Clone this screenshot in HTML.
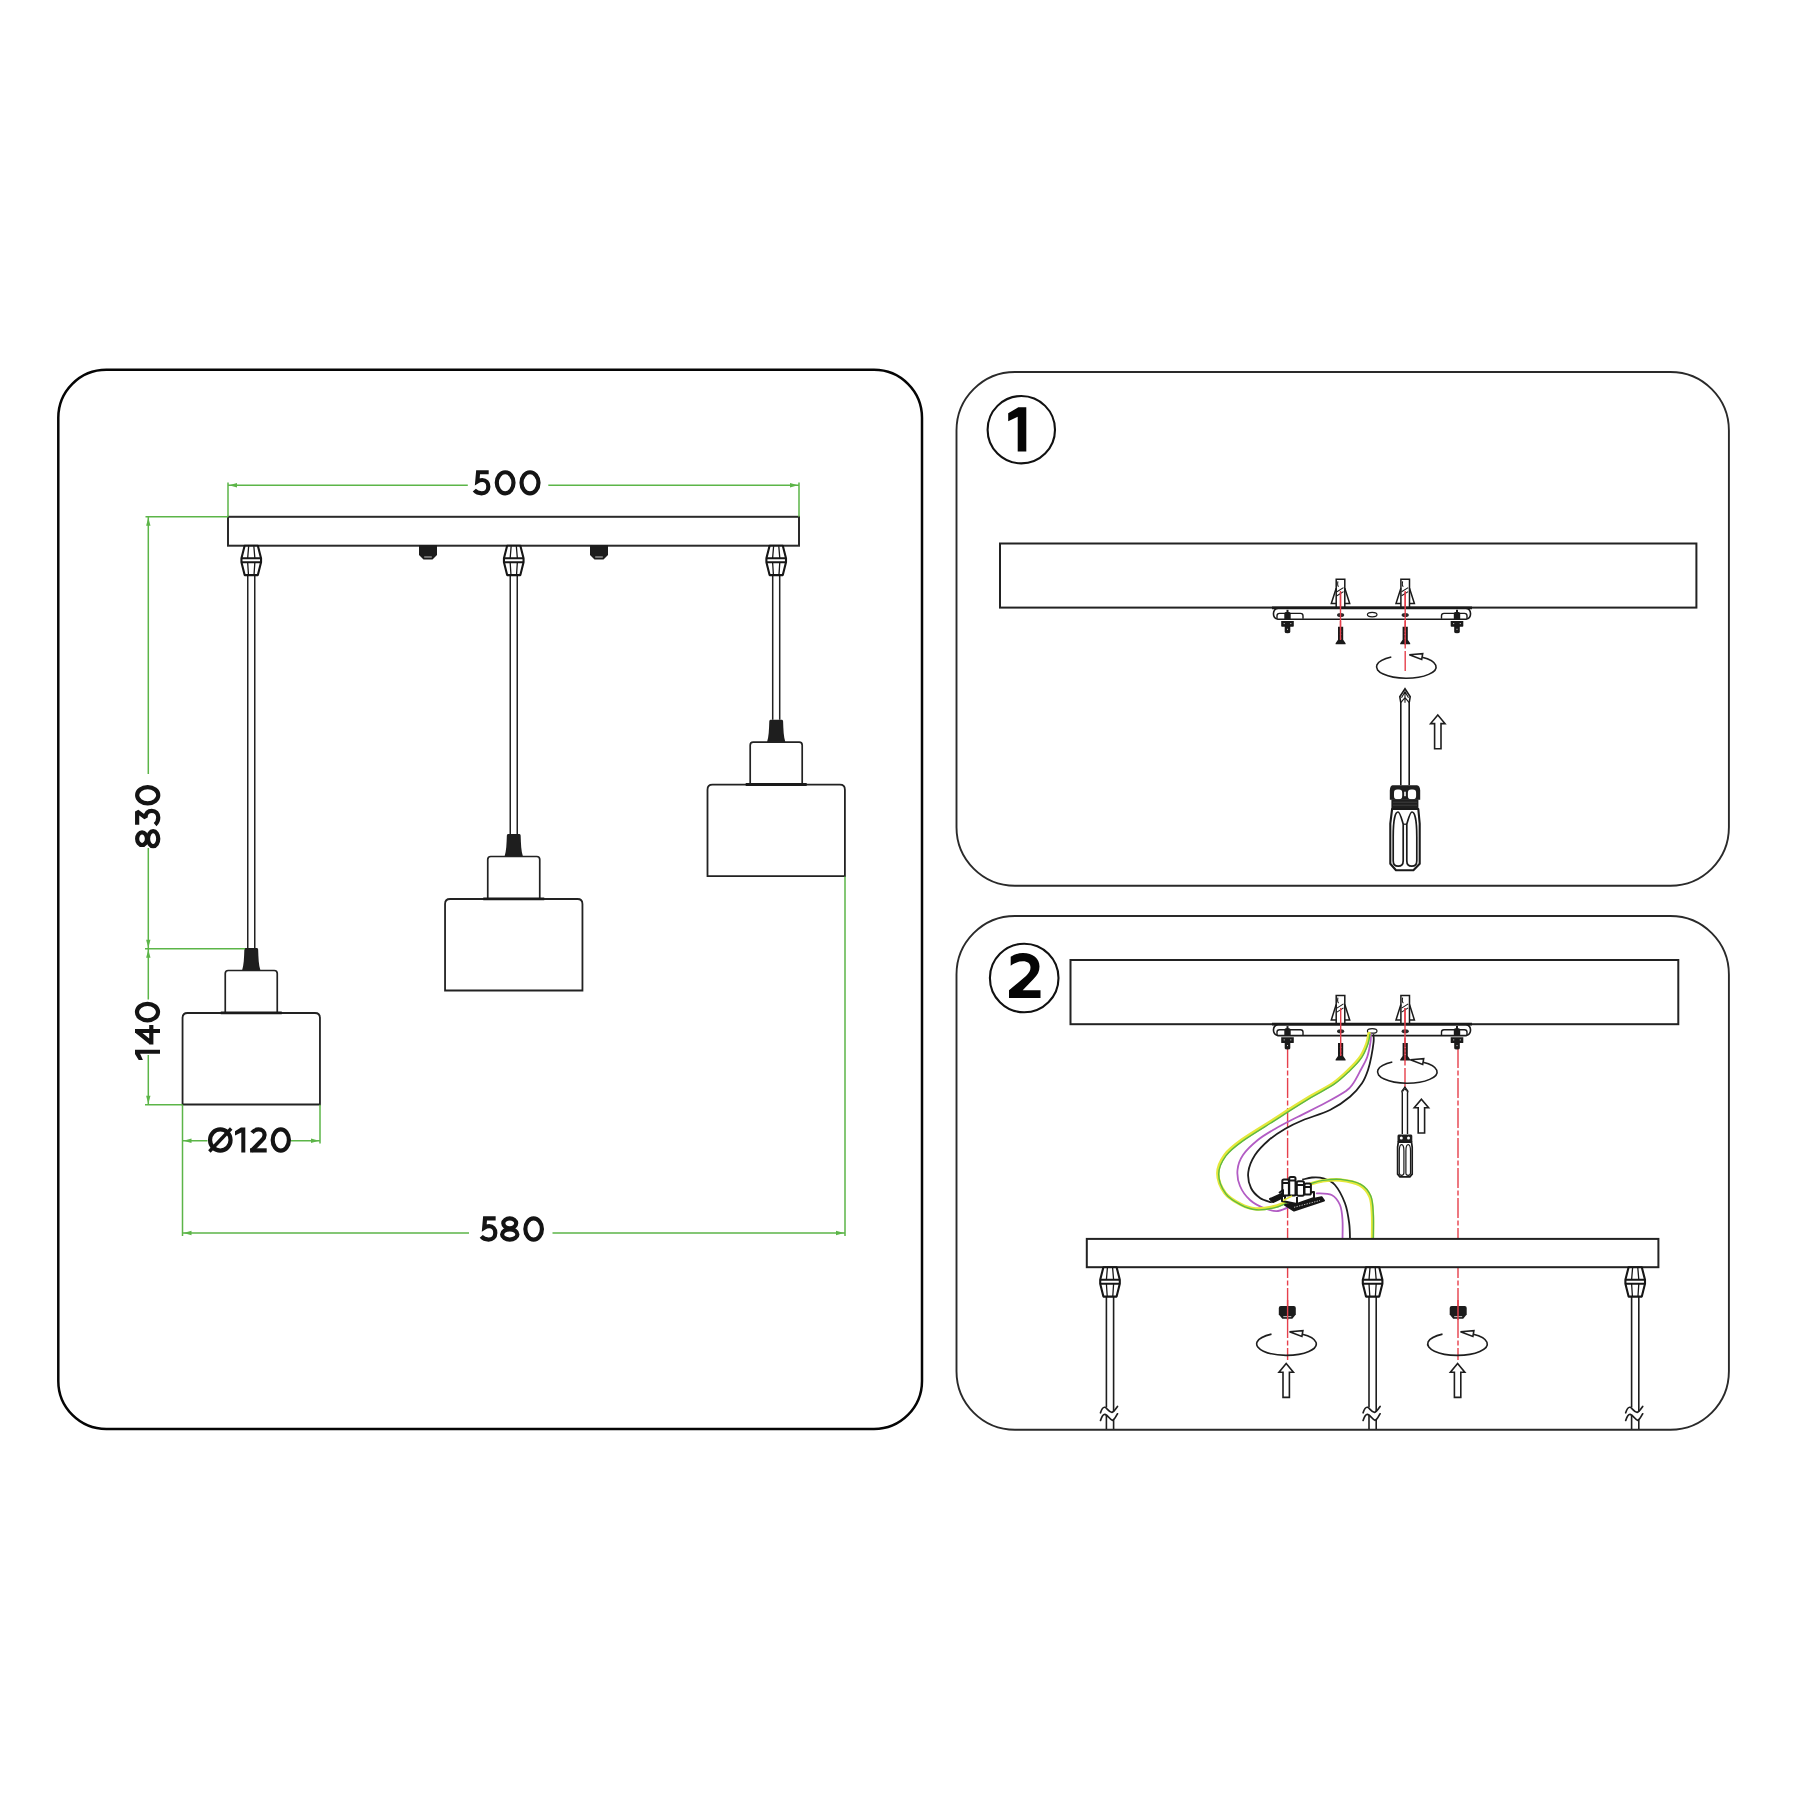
<!DOCTYPE html>
<html><head><meta charset="utf-8"><title>Pendant lamp diagram</title>
<style>
html,body{margin:0;padding:0;background:#fff;}
body{width:1800px;height:1800px;overflow:hidden;}
svg{display:block;}
text{font-family:"Liberation Sans",sans-serif;font-weight:bold;fill:#141414;}
.dim{font-weight:normal;stroke:#141414;stroke-width:1.1px;paint-order:stroke;}
</style></head>
<body>
<svg width="1800" height="1800" viewBox="0 0 1800 1800">
<defs>
  <!-- cord connector hanging from bar; origin = center, top at bar bottom -->
  <g id="conn" fill="#fff" stroke="#161616" stroke-width="2.1" stroke-linejoin="round">
    <path d="M-6.6,0 L6.6,0 L9.8,12.6 L9.8,16.6 L6.6,29.4 L-6.6,29.4 L-9.8,16.6 L-9.8,12.6 Z"/>
    <path d="M-9.8,12.6 H9.8 M-9.8,16.6 H9.8" />
    <path d="M-2.6,0.5 L-3.6,12.6 M2.6,0.5 L3.6,12.6 M-3.6,16.6 L-2.8,29 M3.6,16.6 L2.8,29" stroke-width="1.3"/>
  </g>
  <!-- pendant lower part: origin = cord center at cap top -->
  <g id="pend">
    <path d="M-5.8,0 H5.8 Q6.8,0 6.9,1.5 C7.2,10 7.4,17 9.2,22.5 H-9.2 C-7.4,17 -7.2,10 -6.9,1.5 Q-6.8,0 -5.8,0 Z" fill="#1e1e1e"/>
    <path d="M-26,64.5 V25.5 Q-26,22.5 -23,22.5 H23 Q26,22.5 26,25.5 V64.5" fill="#fff" stroke="#222" stroke-width="1.7"/>
    <path d="M-68.7,156.5 V70 Q-68.7,65 -63.7,65 H63.7 Q68.7,65 68.7,70 V156.5 Z" fill="#fff" stroke="#222" stroke-width="1.8"/>
    <path d="M-30.5,64.8 H30.5" stroke="#1a1a1a" stroke-width="2.8"/>
  </g>
  <!-- screw cap under bar -->
  <g id="scap">
    <path d="M-9,0 H9 V10 L4.5,14.5 H-4.5 L-9,10 Z" fill="#1c1c1c"/>
    <path d="M-3.8,12 H3.8" stroke="#aaa" stroke-width="1.2"/>
  </g>

  <!-- rotation symbol centered at 0,0 -->
  <g id="rot" fill="none" stroke="#1e1e1e" stroke-width="1.6">
    <path d="M-15,-9.6 A29.8,11.4 0 1 0 15.8,-9.4"/>
    <path d="M3,-11.9 L16.4,-13 L15.4,-7.2 Z" fill="#fff" stroke-linejoin="miter"/>
  </g>
  <!-- up arrow outline, tip at 0,0 -->
  <g id="uarr">
    <path d="M0,0 L7.2,8.6 H3.2 V33.8 H-3.2 V8.6 H-7.2 Z" fill="#fff" stroke="#1e1e1e" stroke-width="1.6" stroke-linejoin="miter"/>
  </g>
  <!-- black nut (bottom) origin top center -->
  <g id="nut">
    <path d="M-8.5,2 Q-8.5,0 -6.5,0 H6.5 Q8.5,0 8.5,2 V8.5 L5,12.8 H-5 L-8.5,8.5 Z" fill="#1c1c1c"/>
    <path d="M-4,10.6 H4" stroke="#bbb" stroke-width="1.1"/>
  </g>
  <!-- wall anchor: origin center x, y = ceiling bottom line -->
  <g id="anchor" fill="none" stroke="#1a1a1a" stroke-width="1.5" stroke-linejoin="miter">
    <path d="M-4.3,0 V-28.5 H4.3 V0"/>
    <path d="M-4.3,-19.5 L-9.2,-4.2 H-4.3 M4.3,-19.5 L9.2,-4.2 H4.3"/>
    <path d="M-2.6,-26.5 Q-3.4,-22 -1.8,-21.2 M-3.6,-16 L3,-20.2 M-3.6,-12 L3,-16.2" stroke-width="1.1"/>
  </g>
  <!-- screw pointing up, origin top-center -->
  <g id="screw">
    <path d="M-2.6,0 H2.6 V13 L5,16.5 V17.5 H-5 V16.5 L-2.6,13 Z" fill="#1a1a1a"/>
    <path d="M0,4 V4.8 M0,7.5 V8.3 M0,11 V11.8" stroke="#fff" stroke-width="1.3" opacity=".8"/>
  </g>
  <!-- bolt+nut hanging below bracket, origin = center at bracket bottom -->
  <g id="bolt">
    <path d="M-3.2,-5.5 Q-3.2,-7.5 0,-7.5 Q3.2,-7.5 3.2,-5.5 V0 H-3.2 Z" fill="#1a1a1a"/><path d="M-1,-9.5 H1 V-6 H-1 Z" fill="#1a1a1a"/>
    <path d="M-6.3,1.7 H6.3 V6.8 Q6.3,7.5 5.5,7.5 H2.8 V12.6 Q2.8,14 0,14 Q-2.8,14 -2.8,12.6 V7.5 H-5.5 Q-6.3,7.5 -6.3,6.8 Z" fill="#1a1a1a"/>
    <path d="M-3.8,4.3 h1 M2.8,4.3 h1 M-0.5,10 h1" stroke="#ddd" stroke-width="1"/>
  </g>
  <!-- mounting bracket: origin x abs, y=ceiling bottom -->
  <g id="bracket">
    <path d="M1278,0.5 H1466 A5.6,5.6 0 0 1 1466,11.5 H1278 A5.6,5.6 0 0 1 1278,0.5 Z" fill="#fff" stroke="#1a1a1a" stroke-width="1.6"/>
    <path d="M1277,11 V8 Q1277,5.6 1279.5,5.6 H1300.5 Q1303,5.6 1303,8 V11" fill="none" stroke="#1a1a1a" stroke-width="1.4"/>
    <path d="M1441.5,11 V8 Q1441.5,5.6 1444,5.6 H1464.5 Q1467,5.6 1467,8 V11" fill="none" stroke="#1a1a1a" stroke-width="1.4"/>
    <ellipse cx="1372.2" cy="6.8" rx="4.8" ry="2.3" fill="#fff" stroke="#1a1a1a" stroke-width="1.2"/>
    <ellipse cx="1340.6" cy="7.2" rx="3.6" ry="2" fill="#2a2a2a"/><ellipse cx="1405.2" cy="7.2" rx="3.6" ry="2" fill="#2a2a2a"/>
    <path d="M1272,0 H1472" stroke="#1a1a1a" stroke-width="2.8"/>
    <use href="#bolt" x="1287.5" y="11.5"/>
    <use href="#bolt" x="1457" y="11.5"/>
    <use href="#anchor" x="1340.5" y="0"/>
    <use href="#anchor" x="1405.2" y="0"/>
    <use href="#screw" x="1340.6" y="19"/>
    <use href="#screw" x="1405.2" y="19"/>
  </g>
  <!-- big screwdriver, tip at 0,0 -->
  <g id="sdriver">
    <path d="M-4.2,96.6 V14 L-5.2,8 L0,0 L5.2,8 L4.2,14 V96.6" fill="#fff" stroke="#1a1a1a" stroke-width="1.6"/>
    <path d="M-3.5,9 L0,3 L3.5,9 M0,3 V14 M-4.2,14 L0,9 L4.2,14" fill="none" stroke="#1a1a1a" stroke-width="1.1"/>
    <path d="M-12.5,96.6 H12 Q15,97.2 15.2,101.8 V111 H-15.2 V101.8 Q-15,97.2 -12.5,96.6 Z" fill="#1e1e1e"/>
    <rect x="-11" y="100.8" width="8.2" height="9.8" rx="3.2" fill="#fff"/>
    <rect x="2.9" y="100.8" width="8.2" height="9.8" rx="3.2" fill="#fff"/>
    <rect x="-0.8" y="103" width="1.6" height="4.5" fill="#fff"/>
    <rect x="-13.6" y="110.6" width="27" height="9.8" fill="#1e1e1e"/>
    <path d="M-12,113.5 H12 M-12,116.5 H12" stroke="#555" stroke-width=".6"/>
    <path d="M-12.9,120.3 L-14.7,135 V175 L-9,181.6 H8.4 L14.7,175 V135 L13.3,120.3 Z" fill="#fff" stroke="#1a1a1a" stroke-width="2.1" stroke-linejoin="round"/>
    <path d="M-11.8,148 C-11.8,128 -9,123.3 -7,123.3 C-5,123.3 -3.5,130 -1.8,135.5 V172 Q-1.8,177.5 -6.8,177.5 Q-11.8,177.5 -11.8,172 Z M11.8,148 C11.8,128 9,123.3 7,123.3 C5,123.3 3.5,130 1.8,135.5 V172 Q1.8,177.5 6.8,177.5 Q11.8,177.5 11.8,172 Z" fill="#fff" stroke="#1a1a1a" stroke-width="1.7"/>
    <path d="M-1.8,135.5 H1.8" stroke="#1a1a1a" stroke-width="1.3"/>
  </g>
  <!-- small screwdriver, tip at 0,0 -->
  <g id="sdriver2">
    <path d="M-2.6,47 V6 L-3,4 L0,0 L3,4 L2.6,6 V47" fill="#fff" stroke="#1a1a1a" stroke-width="1.4"/>
    <path d="M-2,4.5 L0,1.5 L2,4.5" fill="none" stroke="#1a1a1a" stroke-width="1"/>
    <path d="M-6.2,47.3 H6.2 Q7.4,47.3 7.4,49 V55 H-7.4 V49 Q-7.4,47.3 -6.2,47.3 Z" fill="#1e1e1e"/>
    <circle cx="-3.6" cy="50.8" r="1.5" fill="#fff"/>
    <circle cx="3.6" cy="50.8" r="1.5" fill="#fff"/>
    <path d="M-6.6,55 L-7.3,60 V87 L-5,89.8 H5 L7.3,87 V60 L6.6,55 Z" fill="#fff" stroke="#1a1a1a" stroke-width="1.7"/>
    <path d="M-5.6,64 Q-5.6,57.5 -3.3,57.5 Q-1,57.5 -1,64 V86 Q-1,88.2 -3.3,88.2 Q-5.6,88.2 -5.6,86 Z M1,64 Q1,57.5 3.3,57.5 Q5.6,57.5 5.6,64 V86 Q5.6,88.2 3.3,88.2 Q1,88.2 1,86 Z" fill="#fff" stroke="#1a1a1a" stroke-width="1.2"/>
  </g>
</defs>

<rect width="1800" height="1800" fill="#fff"/>

<!-- ============ LEFT PANEL ============ -->
<rect x="58.3" y="369.8" width="863.7" height="1059.2" rx="48" ry="48" fill="none" stroke="#050505" stroke-width="2.5"/>

<!-- canopy bar -->
<rect x="228" y="516.8" width="571" height="28.9" fill="#fff" stroke="#2a2a2a" stroke-width="2"/>

<!-- cords -->
<g stroke="#222" stroke-width="1.5" fill="none">
  <path d="M247.75,575 V948.5 M254.75,575 V948.5"/>
  <path d="M510.25,575 V834 M517.25,575 V834"/>
  <path d="M772.7,575 V719.7 M779.7,575 V719.7"/>
</g>
<use href="#conn" x="251.25" y="545.7"/>
<use href="#conn" x="513.75" y="545.7"/>
<use href="#conn" x="776.2" y="545.7"/>
<use href="#scap" x="428" y="545"/>
<use href="#scap" x="599" y="545"/>

<use href="#pend" x="251.25" y="948"/>
<use href="#pend" x="513.75" y="834"/>
<use href="#pend" x="776.2" y="719.7"/>

<!-- green dimension lines -->
<g id="dims" stroke="#5cb548" stroke-width="1.5" fill="none">
  <path d="M228,482.5 V516.8 M799,482.5 V516.8"/>
  <path d="M228,485.3 H467.8 M548.3,485.3 H799"/>
  <path d="M145.5,516.8 H228 M145,948.7 H245 M145,1104.7 H182.5"/>
  <path d="M148.3,516.8 V774 M148.3,848 V948.7 M148.3,948.7 V999.6 M148.3,1055 V1104.7"/>
  <path d="M182.5,1104.7 V1236 M320,1104.7 V1143.5 M845,876.5 V1236"/>
  <path d="M182.5,1140.8 H207.5 M291,1140.8 H320"/>
  <path d="M182.5,1233 H469 M552.5,1233 H845"/>
</g>
<g fill="#5cb548">
  <path d="M229,485.3 l8,-2.2 v4.4 Z"/>
  <path d="M798,485.3 l-8,-2.2 v4.4 Z"/>
  <path d="M148.3,517.8 l-2.2,8 h4.4 Z"/>
  <path d="M148.3,947.7 l-2.2,-8 h4.4 Z"/>
  <path d="M148.3,949.7 l-2.2,8 h4.4 Z"/>
  <path d="M148.3,1103.7 l-2.2,-8 h4.4 Z"/>
  <path d="M183.5,1140.8 l8,-2.2 v4.4 Z"/>
  <path d="M319,1140.8 l-8,-2.2 v4.4 Z"/>
  <path d="M183.5,1233 l8,-2.2 v4.4 Z"/>
  <path d="M844,1233 l-8,-2.2 v4.4 Z"/>
</g>
<!-- dimension labels (paths) -->
<g transform="translate(472.8,470.3)" fill="none" stroke="#141414" stroke-width="4.2"><g transform="translate(0.00,0)"><path d="M15.9,1.95 H5.3 L4.5,11.2 C6.2,10.1 7.8,9.7 9.4,9.7 C13.2,9.7 15.55,12.6 15.55,16.4 C15.55,20.4 12.7,23.05 8.8,23.05 C5.9,23.05 3.3,21.9 1.5,19.9"/></g><g transform="translate(21.90,0)"><ellipse cx="10.45" cy="12.5" rx="8.35" ry="10.55"/></g><g transform="translate(46.60,0)"><ellipse cx="10.60" cy="12.5" rx="8.50" ry="10.55"/></g></g>
<g transform="translate(479.75,1216.5)" fill="none" stroke="#141414" stroke-width="4.2"><g transform="translate(0.00,0)"><path d="M15.9,1.95 H5.3 L4.5,11.2 C6.2,10.1 7.8,9.7 9.4,9.7 C13.2,9.7 15.55,12.6 15.55,16.4 C15.55,20.4 12.7,23.05 8.8,23.05 C5.9,23.05 3.3,21.9 1.5,19.9"/></g><g transform="translate(20.25,0)"><ellipse cx="9.75" cy="6.85" rx="6.45" ry="4.9"/><ellipse cx="9.75" cy="17.95" rx="7.65" ry="5.1"/></g><g transform="translate(43.50,0)"><ellipse cx="10.38" cy="12.5" rx="8.28" ry="10.55"/></g></g>
<g transform="translate(207.8,1127.5)" fill="none" stroke="#141414" stroke-width="4.2"><g transform="translate(0.00,0)"><ellipse cx="12.5" cy="12.5" rx="10.25" ry="10.55"/><path d="M1.6,24 L23.4,1" stroke-width="3.4"/></g><g transform="translate(27.20,0)"><path d="M0,3.7 L5.9,0 H10.3 V25 H6.3 V5.1 L0,7.9 Z" fill="#141414" stroke="none"/></g><g transform="translate(42.20,0)"><path d="M2.1,5.3 C3.7,3 6,1.95 8.5,1.95 C12.3,1.95 14.6,4.2 14.6,7.4 C14.6,9.5 13.6,11.1 11.6,13.1 L1.3,23.4"/><rect x="0.1" y="20.8" width="16.6" height="4.2" fill="#141414" stroke="none"/></g><g transform="translate(62.80,0)"><ellipse cx="10.20" cy="12.5" rx="8.10" ry="10.55"/></g></g>
<g transform="translate(135.2,848.3) rotate(-90)" fill="none" stroke="#141414" stroke-width="4.2"><g transform="translate(0.00,0)"><ellipse cx="9.65" cy="6.85" rx="6.35" ry="4.9"/><ellipse cx="9.65" cy="17.95" rx="7.55" ry="5.1"/></g><g transform="translate(22.30,0)"><path d="M1.2,1.95 H14.6 L8.4,10.4 C12.8,10.2 15.2,13 15.2,16.6 C15.2,20.5 12.3,23.05 8.4,23.05 C5.5,23.05 3,21.9 1.3,19.9" stroke-linejoin="bevel"/></g><g transform="translate(42.80,0)"><ellipse cx="10.25" cy="12.5" rx="8.15" ry="10.55"/></g></g>
<g transform="translate(135,1060) rotate(-90)" fill="none" stroke="#141414" stroke-width="4.2"><g transform="translate(0.00,0)"><path d="M0,3.7 L5.9,0 H10.3 V25 H6.3 V5.1 L0,7.9 Z" fill="#141414" stroke="none"/></g><g transform="translate(15.40,0)"><path d="M13.6,0 V25 M13.6,1.6 L1.7,16.2 M0,16.3 H19.6" stroke-linejoin="miter"/></g><g transform="translate(37.50,0)"><ellipse cx="10.40" cy="12.5" rx="8.30" ry="10.55"/></g></g>


<!-- ============ PANEL 1 ============ -->
<rect x="956.5" y="372" width="772.4" height="513.7" rx="58.5" ry="58.5" fill="none" stroke="#2a2a2a" stroke-width="1.9"/>
<circle cx="1021.3" cy="429.7" r="33.7" fill="none" stroke="#111" stroke-width="2.1"/>
<path d="M1008.2,413.2 L1018.3,407.3 H1026.3 V451.5 H1017.7 V416.7 L1008.2,421.2 Z" fill="#050505"/>
<rect x="1000" y="543.5" width="696.4" height="64.1" fill="none" stroke="#222" stroke-width="2"/>
<!-- panel 1 content -->
<g stroke="#e6404c" stroke-width="1.4" fill="none" stroke-dasharray="20 2.5 5 2.5">
  <path d="M1340.5,591 V641"/>
  <path d="M1405.2,591 V672"/>
</g>
<use href="#bracket" x="0" y="607.8"/>
<g stroke="#e6404c" stroke-width="1.4" fill="none">
  <path d="M1340.5,592 V640"/>
  <path d="M1405.2,592 V645"/>
</g>
<use href="#rot" x="1406.3" y="666.6"/>
<use href="#sdriver" x="1405" y="688.7"/>
<use href="#uarr" x="1437.8" y="715"/>


<!-- ============ PANEL 2 ============ -->
<rect x="956.5" y="916" width="772.4" height="513.7" rx="58.5" ry="58.5" fill="none" stroke="#2a2a2a" stroke-width="1.9"/>
<circle cx="1024.2" cy="978" r="34.3" fill="none" stroke="#111" stroke-width="2.1"/>
<path d="M1010.7,956.7 C1014.5,954.3 1018.5,953 1023,953 C1033,953 1039.5,958.5 1039.5,966.5 C1039.5,971.5 1037.5,975 1033.5,979 L1022.7,990.3 H1040.5 V998 H1009 V990.3 L1026,976 C1029,973 1030.5,970.5 1030.5,967.5 C1030.5,963.5 1027.5,961.3 1023,961.3 C1018.5,961.3 1014.5,962.8 1010.7,965.7 Z" fill="#050505"/>
<rect x="1070.5" y="960" width="607.8" height="64.2" fill="none" stroke="#222" stroke-width="2"/>

<!-- panel 2 content -->
<g stroke="#e6404c" stroke-width="1.4" fill="none" stroke-dasharray="20 2.5 5 2.5">
  <path d="M1287.6,1048 V1360"/>
  <path d="M1458,1048 V1360"/>
  <path d="M1405,1008 V1088"/>
</g>
<use href="#bracket" x="0" y="1024.1"/>
<g stroke="#e6404c" stroke-width="1.4" fill="none">
  <path d="M1340.7,1008 V1056"/>
  <path d="M1405,1008 V1061"/>
</g>
<use href="#rot" x="1407.3" y="1071.6"/>
<use href="#sdriver2" x="1404.9" y="1087.1"/>
<use href="#uarr" x="1421.4" y="1099.2"/>
<!-- wires -->
<g fill="none" stroke-linecap="round" stroke-linejoin="round">
  <path d="M1373.5,1035.0 C1373.5,1036.2 1374.0,1038.4 1373.6,1042.0 C1373.2,1045.6 1372.2,1052.0 1371.3,1056.7 C1370.4,1061.4 1369.5,1065.6 1368.0,1070.0 C1366.5,1074.4 1365.0,1078.8 1362.0,1083.3 C1359.0,1087.8 1355.3,1092.2 1350.0,1096.7 C1344.7,1101.2 1337.8,1106.1 1330.0,1110.0 C1322.2,1113.9 1310.8,1116.9 1303.3,1120.0 C1295.8,1123.1 1291.0,1125.4 1285.3,1128.7 C1279.6,1132.0 1274.0,1135.6 1268.9,1140.0 C1263.9,1144.4 1258.4,1149.7 1255.0,1155.0 C1251.6,1160.3 1249.0,1166.5 1248.3,1172.0 C1247.6,1177.5 1249.0,1183.7 1251.0,1188.0 C1253.0,1192.3 1256.7,1195.6 1260.0,1198.0 C1263.3,1200.4 1269.2,1201.5 1271.0,1202.2" stroke="#1e1e1e" stroke-width="1.8"/>
  <path d="M1370.8,1034.0 C1370.8,1035.3 1371.1,1038.2 1370.5,1042.0 C1369.9,1045.8 1368.9,1052.0 1367.3,1056.7 C1365.7,1061.4 1363.0,1065.6 1360.7,1070.0 C1358.4,1074.4 1355.8,1079.8 1353.3,1083.3 C1350.8,1086.8 1350.8,1087.7 1346.0,1091.0 C1341.2,1094.3 1332.7,1099.0 1324.7,1103.3 C1316.7,1107.6 1306.2,1112.5 1298.0,1116.7 C1289.8,1120.9 1282.0,1124.8 1275.3,1128.7 C1268.6,1132.6 1263.2,1135.6 1257.8,1140.0 C1252.4,1144.4 1246.4,1150.0 1243.0,1155.0 C1239.6,1160.0 1238.0,1164.8 1237.5,1170.0 C1237.0,1175.2 1237.9,1181.0 1240.0,1186.0 C1242.1,1191.0 1245.8,1196.2 1250.0,1200.0 C1254.2,1203.8 1260.3,1206.7 1265.0,1208.5 C1269.7,1210.3 1273.3,1211.6 1278.0,1211.0 C1282.7,1210.4 1290.5,1206.0 1293.0,1205.0" stroke="#b25cc4" stroke-width="1.8"/>
  <path d="M1369.0,1033.5 C1368.7,1035.1 1368.4,1039.4 1367.0,1043.3 C1365.6,1047.2 1363.8,1052.2 1360.7,1056.7 C1357.7,1061.2 1353.3,1065.6 1348.7,1070.0 C1344.1,1074.4 1339.8,1078.8 1333.3,1083.3 C1326.8,1087.8 1317.4,1092.2 1310.0,1096.7 C1302.6,1101.2 1294.8,1106.1 1288.7,1110.0 C1282.6,1113.9 1281.1,1115.0 1273.3,1120.0 C1265.5,1125.0 1250.0,1134.2 1242.0,1140.0 C1234.0,1145.8 1229.0,1149.5 1225.0,1155.0 C1221.0,1160.5 1217.8,1167.0 1217.8,1173.3 C1217.8,1179.6 1221.3,1187.9 1225.0,1193.0 C1228.7,1198.1 1234.9,1201.3 1240.0,1204.0 C1245.1,1206.7 1249.8,1208.5 1255.6,1208.9 C1261.4,1209.3 1269.4,1207.9 1275.0,1206.5 C1280.6,1205.1 1286.7,1201.5 1289.0,1200.5" stroke="#e4e83a" stroke-width="3.4"/>
  <path d="M1369.0,1033.5 C1368.7,1035.1 1368.4,1039.4 1367.0,1043.3 C1365.6,1047.2 1363.8,1052.2 1360.7,1056.7 C1357.7,1061.2 1353.3,1065.6 1348.7,1070.0 C1344.1,1074.4 1339.8,1078.8 1333.3,1083.3 C1326.8,1087.8 1317.4,1092.2 1310.0,1096.7 C1302.6,1101.2 1294.8,1106.1 1288.7,1110.0 C1282.6,1113.9 1281.1,1115.0 1273.3,1120.0 C1265.5,1125.0 1250.0,1134.2 1242.0,1140.0 C1234.0,1145.8 1229.0,1149.5 1225.0,1155.0 C1221.0,1160.5 1217.8,1167.0 1217.8,1173.3 C1217.8,1179.6 1221.3,1187.9 1225.0,1193.0 C1228.7,1198.1 1234.9,1201.3 1240.0,1204.0 C1245.1,1206.7 1249.8,1208.5 1255.6,1208.9 C1261.4,1209.3 1269.4,1207.9 1275.0,1206.5 C1280.6,1205.1 1286.7,1201.5 1289.0,1200.5" stroke="#5cb844" stroke-width="1.4" transform="translate(0.9,0.9)"/>
  <path d="M1303.0,1179.5 C1304.5,1179.2 1308.6,1177.7 1312.0,1177.5 C1315.4,1177.3 1319.5,1177.0 1323.3,1178.3 C1327.1,1179.5 1331.4,1180.8 1335.0,1185.0 C1338.6,1189.2 1342.6,1196.9 1345.0,1203.3 C1347.4,1209.7 1348.4,1217.3 1349.2,1223.3 C1350.0,1229.2 1349.9,1236.4 1350.0,1239.0" stroke="#1e1e1e" stroke-width="1.8"/>
  <path d="M1316.7,1193.3 C1319.2,1193.6 1327.8,1193.0 1331.7,1195.0 C1335.6,1197.0 1338.2,1200.8 1340.0,1205.0 C1341.8,1209.2 1342.1,1214.3 1342.5,1220.0 C1342.9,1225.7 1342.5,1235.8 1342.5,1239.0" stroke="#b25cc4" stroke-width="1.8"/>
  <path d="M1310.0,1184.2 C1312.0,1183.7 1317.0,1181.7 1322.0,1181.0 C1327.0,1180.3 1333.7,1179.3 1340.0,1180.0 C1346.3,1180.7 1355.0,1182.2 1360.0,1185.0 C1365.0,1187.8 1367.9,1191.7 1370.0,1196.7 C1372.1,1201.7 1372.1,1208.0 1372.5,1215.0 C1372.9,1222.0 1372.5,1235.0 1372.5,1239.0" stroke="#e4e83a" stroke-width="3.4"/>
  <path d="M1310.0,1184.2 C1312.0,1183.7 1317.0,1181.7 1322.0,1181.0 C1327.0,1180.3 1333.7,1179.3 1340.0,1180.0 C1346.3,1180.7 1355.0,1182.2 1360.0,1185.0 C1365.0,1187.8 1367.9,1191.7 1370.0,1196.7 C1372.1,1201.7 1372.1,1208.0 1372.5,1215.0 C1372.9,1222.0 1372.5,1235.0 1372.5,1239.0" stroke="#5cb844" stroke-width="1.4" transform="translate(0.8,-0.6)"/>
</g>
<!-- terminal block -->
<g stroke="#161616" stroke-width="2" stroke-linejoin="round">
  <path d="M1270,1199 L1281.5,1193.8 L1284.5,1196.5 L1273,1202 Z" fill="#161616"/>
  <path d="M1285,1205 L1321.5,1197.2 L1324,1200.5 L1294,1210.6 Z" fill="#161616"/>
  <path d="M1294,1207.3 L1320,1200.5" stroke="#e8e8e8" stroke-width=".8" stroke-dasharray="1.3 1.3"/>
  <path d="M1282,1194 V1201 L1297,1204 L1314,1198 V1192 Z" fill="#fff"/>
  <path d="M1297,1197 V1204 M1285,1190 V1200" fill="none"/>
  <rect x="1282.3" y="1179.5" width="6.6" height="16" rx="1.6" fill="#fff"/>
  <rect x="1289.2" y="1177" width="6.3" height="18.5" rx="1.6" fill="#fff"/>
  <rect x="1296.8" y="1181.2" width="7.2" height="14.5" rx="1.6" fill="#fff"/>
  <rect x="1304.5" y="1183.5" width="6.4" height="11" rx="1.6" fill="#fff"/>
  <path d="M1282.3,1183 H1288.9 M1289.2,1180.5 H1295.5 M1296.8,1185 H1304 M1304.5,1187 H1310.9" fill="none" stroke-width="2.2"/>
  <path d="M1279,1193 L1283,1190 V1197" fill="none"/>
  <path d="M1283,1200.5 L1292,1196" stroke="#e4e83a" stroke-width="1.5"/>
</g>
<!-- lower lamp canopy -->
<rect x="1086.8" y="1238.9" width="571.6" height="28.3" fill="#fff" stroke="#222" stroke-width="2"/>
<g stroke="#1e1e1e" stroke-width="1.6" fill="none">
  <path d="M1106.4,1297 V1407.5 M1113.6,1297 V1411.5 M1106.4,1415.5 V1429 M1113.6,1419.5 V1429"/>
  <path d="M1369,1297 V1407.5 M1376.2,1297 V1411.5 M1369,1415.5 V1429 M1376.2,1419.5 V1429"/>
  <path d="M1631.6,1297 V1407.5 M1638.8,1297 V1411.5 M1631.6,1415.5 V1429 M1638.8,1419.5 V1429"/>
</g>
<g stroke="#1e1e1e" stroke-width="1.7" fill="none" stroke-linecap="round">
  <path d="M1100.5,1412.8 C1102,1408 1103,1406.8 1105,1407.3 C1107,1408 1109,1412.5 1112,1412.3 C1114,1412 1116,1408.5 1117.5,1406.5"/>
  <path d="M1100.5,1420.5 C1102,1415.5 1103,1414 1105,1414.3 C1108,1415 1110,1420 1112.5,1420.3 C1114.5,1420 1116,1416 1117.5,1413.8"/>
  <path d="M1363.1,1412.8 C1364.6,1408 1365.6,1406.8 1367.6,1407.3 C1369.6,1408 1371.6,1412.5 1374.6,1412.3 C1376.6,1412 1378.6,1408.5 1380.1,1406.5"/>
  <path d="M1363.1,1420.5 C1364.6,1415.5 1365.6,1414 1367.6,1414.3 C1370.6,1415 1372.6,1420 1375.1,1420.3 C1377.1,1420 1378.6,1416 1380.1,1413.8"/>
  <path d="M1625.7,1412.8 C1627.2,1408 1628.2,1406.8 1630.2,1407.3 C1632.2,1408 1634.2,1412.5 1637.2,1412.3 C1639.2,1412 1641.2,1408.5 1642.7,1406.5"/>
  <path d="M1625.7,1420.5 C1627.2,1415.5 1628.2,1414 1630.2,1414.3 C1633.2,1415 1635.2,1420 1637.7,1420.3 C1639.7,1420 1641.2,1416 1642.7,1413.8"/>
</g>
<use href="#conn" x="1110" y="1267.2"/>
<use href="#conn" x="1372.6" y="1267.2"/>
<use href="#conn" x="1635.2" y="1267.2"/>
<use href="#nut" x="1287.3" y="1306"/>
<use href="#nut" x="1458.2" y="1306"/>
<g stroke="#e6404c" stroke-width="1.4" fill="none" stroke-dasharray="20 2.5 5 2.5">
  <path d="M1287.6,1300 V1322"/>
  <path d="M1458,1300 V1322"/>
</g>
<use href="#rot" x="1286.5" y="1343.7"/>
<use href="#rot" x="1457.5" y="1343.7"/>
<use href="#uarr" x="1286.2" y="1363.6"/>
<use href="#uarr" x="1457.6" y="1363.6"/>

</svg>
</body></html>
